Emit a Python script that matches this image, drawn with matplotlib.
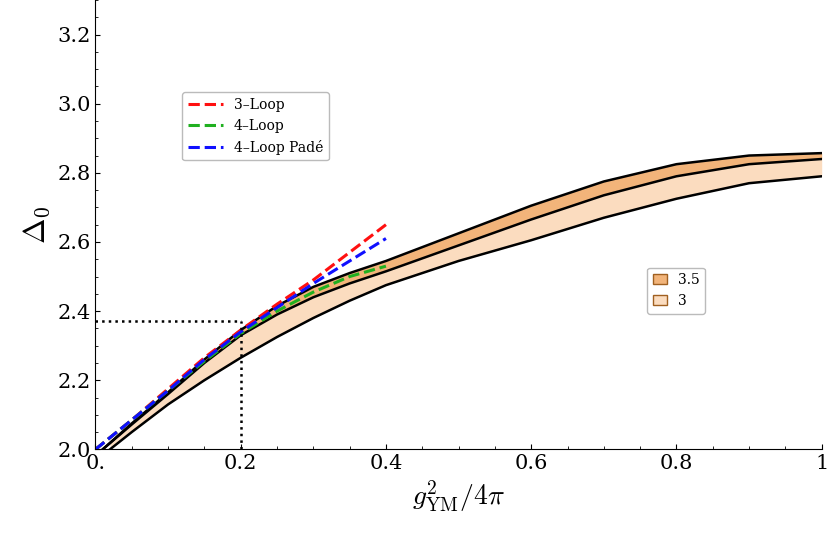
import numpy as np
import matplotlib
matplotlib.use("Agg")
import matplotlib.pyplot as plt
from matplotlib.patches import Patch
from matplotlib.ticker import MultipleLocator

plt.rcParams["mathtext.fontset"] = "cm"
plt.rcParams["font.family"] = "serif"
plt.rcParams["font.serif"] = ["DejaVu Serif"]

# band curves
g_top = [0.01, 0.05, 0.1, 0.15, 0.2, 0.25, 0.3, 0.35, 0.4, 0.5, 0.6, 0.7, 0.8, 0.9, 1.0]
top = [2.0, 2.075, 2.165, 2.26, 2.345, 2.415, 2.47, 2.51, 2.545, 2.625, 2.705, 2.775, 2.825, 2.85, 2.857]
g_mid = [0.01, 0.05, 0.1, 0.15, 0.2, 0.25, 0.3, 0.35, 0.4, 0.5, 0.6, 0.7, 0.8, 0.9, 1.0]
mid = [2.0, 2.072, 2.16, 2.25, 2.33, 2.39, 2.44, 2.48, 2.515, 2.59, 2.665, 2.735, 2.79, 2.825, 2.84]
g_bot = [0.02, 0.05, 0.1, 0.15, 0.2, 0.25, 0.3, 0.35, 0.4, 0.5, 0.6, 0.7, 0.8, 0.9, 1.0]
bot = [2.0, 2.05, 2.13, 2.2, 2.265, 2.325, 2.38, 2.43, 2.475, 2.545, 2.605, 2.67, 2.725, 2.77, 2.79]

# perturbative curves
g_pert = [0.0, 0.05, 0.1, 0.15, 0.2, 0.25, 0.3, 0.35, 0.4]
loop3 = [2.0, 2.085, 2.175, 2.265, 2.345, 2.42, 2.49, 2.57, 2.65]
loop4 = [2.0, 2.085, 2.17, 2.255, 2.335, 2.4, 2.455, 2.5, 2.53]
pade = [2.0, 2.085, 2.17, 2.26, 2.34, 2.41, 2.48, 2.545, 2.61]

fig, ax = plt.subplots(figsize=(8.3, 5.48), dpi=100)
fig.subplots_adjust(left=0.115, right=0.99, top=1.0, bottom=0.18)

gx = np.linspace(0.02, 1.0, 300)
t = np.interp(gx, g_top, top)
m = np.interp(gx, g_mid, mid)
b = np.interp(gx, g_bot, bot)
ax.fill_between(gx, m, t, color="#f2b47a", lw=0)
ax.fill_between(gx, b, m, color="#fbdcbf", lw=0)
ax.plot(g_top, top, color="black", lw=1.8)
ax.plot(g_mid, mid, color="black", lw=1.8)
ax.plot(g_bot, bot, color="black", lw=1.8)

l1, = ax.plot(g_pert, loop3, "--", color="#ff1010", lw=2.2, label="3\u2013Loop")
l2, = ax.plot(g_pert, loop4, "--", color="#20b020", lw=2.2, label="4\u2013Loop")
l3, = ax.plot(g_pert, pade, "--", color="#1010ff", lw=2.2, label="4\u2013Loop Padé")

ax.plot([0, 0.2], [2.37, 2.37], ":", color="black", lw=1.8)
ax.plot([0.2, 0.2], [2.0, 2.37], ":", color="black", lw=1.8)

ax.set_xlim(0, 1)
ax.set_ylim(2.0, 3.3)
ax.spines["top"].set_visible(False)
ax.spines["right"].set_visible(False)
ax.set_xticks([0, 0.2, 0.4, 0.6, 0.8, 1.0])
ax.set_xticklabels(["0.", "0.2", "0.4", "0.6", "0.8", "1"])
ax.set_yticks([2.0, 2.2, 2.4, 2.6, 2.8, 3.0, 3.2])
ax.xaxis.set_minor_locator(MultipleLocator(0.05))
ax.yaxis.set_minor_locator(MultipleLocator(0.05))
ax.tick_params(labelsize=15, direction="in")
ax.tick_params(which="minor", direction="in", length=2)
ax.set_xlabel(r"$g^2_{\rm YM}/4\pi$", fontsize=20)
ax.set_ylabel(r"$\Delta_0$", fontsize=22)

leg1 = ax.legend(handles=[l1, l2, l3], loc="upper left", bbox_to_anchor=(0.11, 0.81),
                 fontsize=10, fancybox=True, edgecolor="#aaaaaa", handlelength=2.5)
ax.add_artist(leg1)
ax.legend(handles=[Patch(facecolor="#f2b47a", edgecolor="#a06020", label="3.5"),
                   Patch(facecolor="#fbdcbf", edgecolor="#a06020", label="3")],
          loc="upper left", bbox_to_anchor=(0.75, 0.42), fontsize=10,
          fancybox=True, edgecolor="#aaaaaa", handlelength=1.0)

fig.savefig("out.png", dpi=100)
